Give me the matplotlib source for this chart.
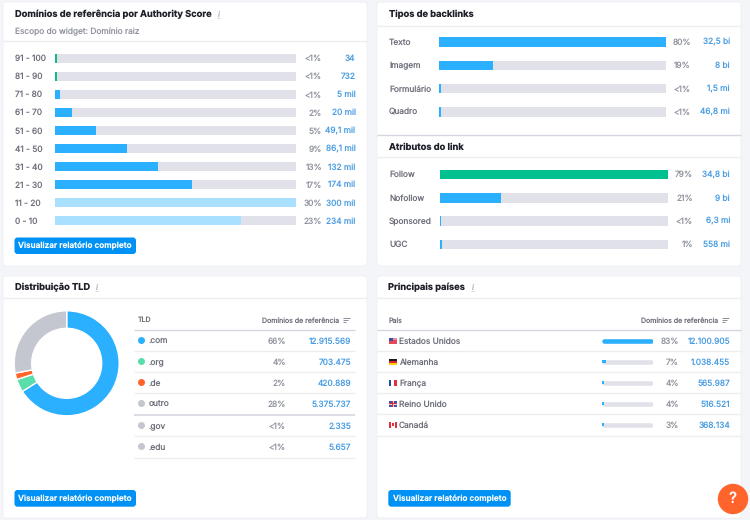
import matplotlib
matplotlib.use("Agg")
import matplotlib.pyplot as plt
from matplotlib.patches import FancyBboxPatch, Rectangle, Circle

plt.rcParams['font.family'] = ['Inter', 'DejaVu Sans']
plt.rcParams['text.hinting'] = 'no_hinting'
plt.rcParams['text.hinting_factor'] = 1

# ---------- data ----------
as_labels = ['91 - 100', '81 - 90', '71 - 80', '61 - 70', '51 - 60', '41 - 50', '31 - 40', '21 - 30', '11 - 20', '0 - 10']
as_fill = [2, 2, 6, 21, 51, 90, 128, 171, 300, 231]
as_pct = ['<1%', '<1%', '<1%', '2%', '5%', '9%', '13%', '17%', '30%', '23%']
as_vals = ['34', '732', '5 mil', '20 mil', '49,1 mil', '86,1 mil', '132 mil', '174 mil', '300 mil', '234 mil']

bt_labels = ['Texto', 'Imagem', 'Formulário', 'Quadro']
bt_fill = [100, 24, 0.9, 0.9]
bt_pct = ['80%', '19%', '<1%', '<1%']
bt_vals = ['32,5 bi', '8 bi', '1,5 mi', '46,8 mi']

la_labels = ['Follow', 'Nofollow', 'Sponsored', 'UGC']
la_fill = [100, 27, 0.7, 1.2]
la_pct = ['79%', '21%', '<1%', '1%']
la_vals = ['34,8 bi', '9 bi', '6,3 mi', '558 mi']

tld_labels = ['.com', '.org', '.de', 'outro', '.gov', '.edu']
tld_pct = ['66%', '4%', '2%', '28%', '<1%', '<1%']
tld_vals = ['12.915.569', '703.475', '420.889', '5.375.737', '2.335', '5.657']
donut_vals = [66, 4, 2, 28]

ct_labels = ['Estados Unidos', 'Alemanha', 'França', 'Reino Unido', 'Canadá']
ct_fill = [100, 8, 5, 5, 4]
ct_pct = ['83%', '7%', '4%', '4%', '3%']
ct_vals = ['12.100.905', '1.038.455', '565.987', '516.521', '368.134']

# ---------- colours ----------
BG = '#F4F5F9'
BLUE = '#2BAFFF'
LIGHT = '#A9E0FF'
TRACK = '#E0E1E9'
GREEN = '#00C08F'
TEAL = '#12B886'
LINK = '#4A9DE3'
LABEL = '#6C6E79'
PCT = '#91949F'
DARK = '#1F212A'
RULE = '#EDEEF2'
RULE2 = '#D5D7E0'
DGREY = '#C4C7D0'
ORG = '#59DDAA'
ORANGE = '#FF642D'
BTN = '#0091F5'

W, H = 750, 520
fig = plt.figure(figsize=(W / 100, H / 100), dpi=100, facecolor=BG)
bg = fig.add_axes([0, 0, 1, 1], zorder=0)
bg.set_xlim(0, W)
bg.set_ylim(H, 0)
bg.axis('off')

FS = 6.0
TS = 6.7


def card(x0, y0, x1, y1):
    bg.add_patch(FancyBboxPatch((x0 + 3, y0 + 3), x1 - x0 - 6, y1 - y0 - 6,
                                boxstyle='round,pad=3,rounding_size=3', fc='white',
                                ec='#ECEDF2', lw=0.5, zorder=1))


def hline(x0, x1, y, c=RULE, lw=1.0):
    bg.plot([x0, x1], [y, y], color=c, lw=lw, solid_capstyle='butt', zorder=2)


def txt(x, y, s, c=LABEL, ha='left', size=FS, **kw):
    bg.text(x, y + 0.5, s, color=c, ha=ha, va='center', fontsize=size, zorder=3, **kw)


def title(x, y, s):
    txt(x, y, s, c=DARK, size=TS, fontweight='bold')


def info(x, y):
    txt(x, y, 'i', c='#A9ACB6', size=5.5, style='italic')
    hline(x - 1, x + 2, y + 3.6, c='#C4C7D0', lw=0.5)


def button(x0, x1, y0, y1):
    bg.add_patch(FancyBboxPatch((x0 + 3, y0 + 3), x1 - x0 - 6, y1 - y0 - 6,
                                boxstyle='round,pad=3,rounding_size=3', fc=BTN, ec='none', zorder=2))
    txt((x0 + x1) / 2, (y0 + y1) / 2 - 0.3, 'Visualizar relatório completo', c='white',
        ha='center', size=5.9, fontweight='semibold')


def bars(x0, x1, yc_first, yc_last, fills, colors, xmax, h, pill=False):
    n = len(fills)
    s = (yc_last - yc_first) / (n - 1)
    top, bot = yc_first - s / 2, yc_last + s / 2
    ax = fig.add_axes([x0 / W, 1 - bot / H, (x1 - x0) / W, (bot - top) / H], zorder=1)
    ax.patch.set_alpha(0)
    ax.axis('off')
    ax.set_xlim(0, xmax)
    ax.set_ylim(n - 0.5, -0.5)
    ys = list(range(n))
    if pill:
        lw = h * 0.72
        cap = (h / 2) / (x1 - x0) * xmax
        ax.hlines(ys, cap, xmax - cap, color=TRACK, lw=lw, capstyle='round')
        for yi, f, c in zip(ys, fills, colors):
            if f > 2 * cap:
                ax.hlines(yi, cap, f - cap, color=c, lw=lw, capstyle='round')
            else:
                ax.barh(yi, f, height=h / s * 0.85, color=c, edgecolor='none', zorder=3)
    else:
        ax.barh(ys, [xmax] * n, height=h / s, color=TRACK, edgecolor='none')
        ax.barh(ys, fills, height=h / s, color=colors, edgecolor='none')


def rows(labels, pct, vals, yc_first, yc_last, xl, xp, xv):
    n = len(labels)
    s = (yc_last - yc_first) / (n - 1)
    for i in range(n):
        y = yc_first + i * s
        txt(xl, y, labels[i])
        txt(xp, y, pct[i], c=PCT, ha='right')
        txt(xv, y, vals[i], c=LINK, ha='right')


# ---------- cards ----------
card(3, 2, 367, 266)
card(377, 2, 741, 266)
card(3, 276, 367, 518)
card(377, 276, 741, 518)

# ---------- Authority Score ----------
title(15, 14, 'Domínios de referência por Authority Score')
info(218, 14.5)
txt(15, 31.5, 'Escopo do widget: Domínio raiz', c=PCT)
hline(3, 367, 41)
as_colors = [TEAL, TEAL] + [BLUE] * 6 + [LIGHT, LIGHT]
bars(55, 296, 58.5, 220.7, as_fill, as_colors, 300, 9.5)
rows(as_labels, as_pct, as_vals, 58.5, 220.7, 15, 322, 355.5)
button(14.5, 136, 237.5, 254)

# ---------- Tipos de backlinks ----------
title(389, 14, 'Tipos de backlinks')
hline(377, 741, 25.5)
bars(438.5, 665.7, 42, 112, bt_fill, [BLUE] * 4, 100, 9.5)
rows(bt_labels, bt_pct, bt_vals, 42, 112, 389, 691, 730)

hline(377, 741, 134.5, c=RULE2)
title(389, 146.5, 'Atributos do link')
hline(377, 741, 157)
bars(439.5, 668.3, 174.5, 244.5, la_fill, [GREEN] + [BLUE] * 3, 100, 9.5)
rows(la_labels, la_pct, la_vals, 174.5, 244.5, 389, 693, 730)

# ---------- Distribuição TLD ----------
title(15, 287, 'Distribuição TLD')
info(96, 287.5)
hline(3, 367, 298)
r_out = 52.5
cx, cy = 66.7, 363.3
dax = fig.add_axes([(cx - r_out - 1) / W, 1 - (cy + r_out + 1) / H,
                    (2 * r_out + 2) / W, (2 * r_out + 2) / H], zorder=1)
dax.pie(donut_vals, colors=[BLUE, ORG, ORANGE, DGREY], startangle=90, counterclock=False,
        radius=r_out / (r_out + 1), wedgeprops=dict(width=17.5 / (r_out + 1), edgecolor='white', linewidth=1.0))
dax.set_xlim(-1, 1)
dax.set_ylim(-1, 1)

HS = 5.05
txt(138, 320, 'TLD', size=HS)
txt(339, 320, 'Domínios de referência', ha='right', size=HS)
hline(134, 355, 329.7, c=RULE2)
tld_y = [341, 362, 383, 404, 426, 447]
tld_dots = [BLUE, ORG, ORANGE, DGREY, DGREY, DGREY]
for y, lab, p, v, c in zip(tld_y, tld_labels, tld_pct, tld_vals, tld_dots):
    bg.add_patch(Circle((141.5, y - 0.5), 3.5, fc=c, ec='none', zorder=3))
    txt(149, y, lab)
    txt(286, y, p, c=PCT, ha='right')
    txt(351, y, v, c=LINK, ha='right')
for y in [351, 372, 393, 436, 457.5]:
    hline(134, 355, y)
hline(134, 355, 414.5, c=RULE2, lw=1.2)
button(14.5, 136, 490, 506.7)

# ---------- Principais países ----------
title(388.5, 287, 'Principais países')
info(472, 287.5)
hline(377, 741, 298)
txt(388.5, 320, 'País', size=HS)
txt(718, 320, 'Domínios de referência', ha='right', size=HS)
hline(377, 741, 329.7, c=RULE2)
ct_y = [341, 362, 383, 404, 425]
for y in [351, 372, 393, 414, 435.5]:
    hline(377, 741, y)
bars(601.5, 653, 340.5, 424.5, ct_fill, [BLUE] * 5, 100, 4.5, pill=True)
for y, lab, p, v in zip(ct_y, ct_labels, ct_pct, ct_vals):
    txt(399, y, lab)
    txt(679, y, p, c=PCT, ha='right')
    txt(730, y, v, c=LINK, ha='right')


def rect(x, y, w, h, c):
    bg.add_patch(Rectangle((x, y), w, h, fc=c, ec='none', zorder=3))


fx, fw, fh = 388.5, 8.5, 6.0
# US
y = 337.5
rect(fx, y, fw, fh, '#E4485A')
rect(fx, y, fw, 2, '#F08A96')
rect(fx, y, 4, 3.2, '#3F4FA8')
# DE
y = 358.7
rect(fx, y, fw, 2, '#1A1A1A')
rect(fx, y + 2, fw, 2, '#D8262C')
rect(fx, y + 4, fw, 2, '#FFCE00')
# FR
y = 379.8
rect(fx, y, fw / 3, fh, '#1F4FA8')
rect(fx + 2 * fw / 3, y, fw / 3, fh, '#E4303C')
# UK
y = 400.8
rect(fx, y, fw, fh, '#47509C')
rect(fx, y + 2, fw, 2, '#F0C8D0')
rect(fx + 3, y, 2.5, fh, '#F0C8D0')
rect(fx, y + 2.6, fw, 0.8, '#D8303C')
rect(fx + 3.8, y, 0.9, fh, '#D8303C')
# CA
y = 421.5
rect(fx, y, 2.2, fh, '#E4303C')
rect(fx + fw - 2.2, y, 2.2, fh, '#E4303C')
rect(fx + 3.4, y + 1.8, 1.8, 2.4, '#E4303C')
button(388.3, 510.7, 490, 506.7)

# sort icons
for x1 in (350, 729):
    for i, wd in enumerate((7, 5, 3)):
        hline(x1 - 7, x1 - 7 + wd, 317.7 + i * 2.3, c='#8B8E9A', lw=0.7)

# help bubble
bg.add_patch(Circle((733, 499), 15.2, fc=ORANGE, ec='none', zorder=4))
bg.text(733, 499, '?', color='white', ha='center', va='center', fontsize=11, fontweight='medium', zorder=5)

fig.savefig('out.png', dpi=100, facecolor=BG)
